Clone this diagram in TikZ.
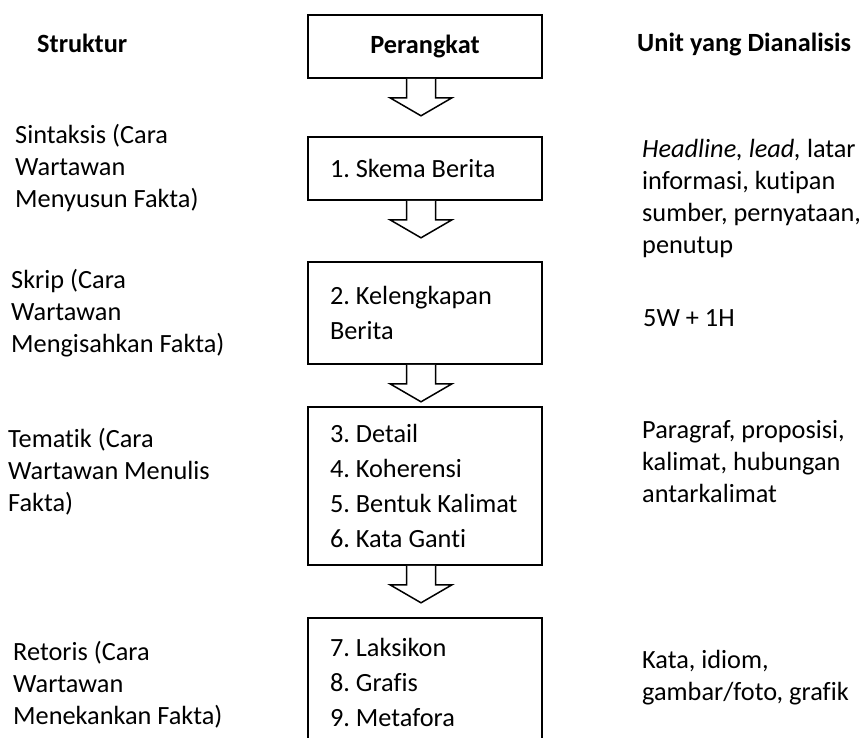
\documentclass[tikz,border=0pt]{standalone}
\usepackage{fontspec}
\setmainfont{Carlito}[Ligatures=CommonOff]
\frenchspacing

\tikzset{
  lbl/.style={inner sep=0pt, anchor=west, align=flush left, font=\fontsize{26.3}{32}\selectfont},
  stepbox/.style={draw, line width=1.6pt, minimum width=234pt, text width=190pt, inner xsep=22pt, inner ysep=0pt, align=flush left, font={\fontsize{26.3}{35}\selectfont\hyphenpenalty10000\relax}},
  downarrow/.pic={\draw[line width=1.5pt, fill=white] (-14.5,0) -- (-14.5,19) -- (-31,19) -- (0,37) -- (31,19) -- (14.5,19) -- (14.5,0);}
}

\begin{document}
\begin{tikzpicture}[x=1pt, y=-1pt]
      \useasboundingbox (0,0) rectangle (867,738);
      \clip (0,0) rectangle (867,738);
      \node[lbl, font=\fontsize{26.3}{32}\selectfont\bfseries] (struktur) at (37,43) {Struktur};
      \node[lbl, font=\fontsize{26.3}{32}\selectfont\bfseries] (unit) at (637,45) {Unit yang Dianalisis};
      \node[stepbox, align=flush center, minimum height=63pt] (perangkat) at (425,46.5) {\textbf{Perangkat}};
      \node[stepbox, minimum height=63pt] (skema) at (425,168.5) {1. Skema Berita};
      \node[stepbox, minimum height=102pt] (lengkap) at (425,313) {2. Kelengkapan\\Berita};
      \node[stepbox, minimum height=158pt] (tematik) at (425,486) {3. Detail\\4. Koherensi\\5. Bentuk Kalimat\\6. Kata Ganti};
      \node[stepbox, minimum height=128pt] (retoris) at (425,682) {7. Laksikon\\8. Grafis\\9. Metafora};
      \foreach \b in {perangkat, skema, lengkap, tematik}
        \pic at ([xshift=-4pt]\b.south) {downarrow};
      \node[lbl] (sintaksisL) at (15,168.5) {Sintaksis (Cara\\Wartawan\\Menyusun Fakta)};
      \node[lbl] (skripL) at (11,313.5) {Skrip (Cara\\Wartawan\\Mengisahkan Fakta)};
      \node[lbl] (tematikL) at (8,471.5) {Tematik (Cara\\Wartawan Menulis\\Fakta)};
      \node[lbl] (retorisL) at (13,685) {Retoris (Cara\\Wartawan\\Menekankan Fakta)};
      \node[lbl] (skemaR) at (642,198.5) {\textit{Headline, lead,} latar\\informasi, kutipan\\sumber, pernyataan,\\penutup};
      \node[lbl] (lengkapR) at (643,318) {5W + 1H};
      \node[lbl] (tematikR) at (642,462) {Paragraf, proposisi,\\kalimat, hubungan\\antarkalimat};
      \node[lbl] (retorisR) at (642,678) {Kata, idiom,\\gambar/foto, grafik};
\end{tikzpicture}
\end{document}
